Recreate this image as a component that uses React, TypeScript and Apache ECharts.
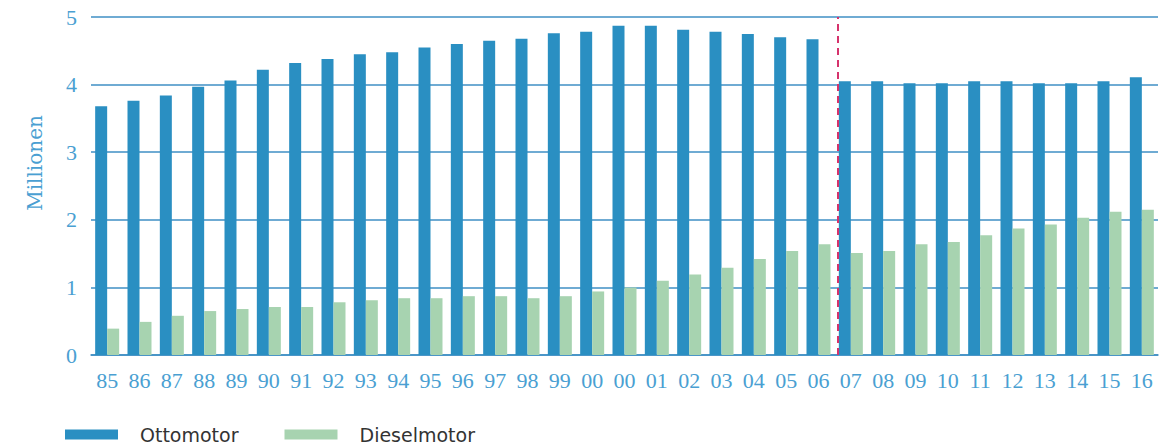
import React, { useEffect, useRef } from "react";
import * as echarts from "echarts";

const categories = ["85","86","87","88","89","90","91","92","93","94","95","96","97","98","99","00","00","01","02","03","04","05","06","07","08","09","10","11","12","13","14","15","16"];
const ottomotor = [3.68,3.76,3.84,3.97,4.06,4.22,4.32,4.38,4.45,4.48,4.55,4.6,4.65,4.68,4.76,4.78,4.87,4.87,4.81,4.78,4.75,4.7,4.67,4.05,4.05,4.02,4.02,4.05,4.05,4.02,4.02,4.05,4.11];
const dieselmotor = [0.39,0.49,0.58,0.65,0.68,0.71,0.71,0.78,0.81,0.84,0.84,0.87,0.87,0.84,0.87,0.94,1.0,1.1,1.19,1.29,1.42,1.54,1.64,1.51,1.54,1.64,1.67,1.77,1.87,1.93,2.03,2.12,2.15];
const seriesNames = ["Ottomotor", "Dieselmotor"];
const yTicks = { min: 0, max: 5, interval: 1 };
const dividerPosition = 22.6; // between "06" and "07"
const yAxisTitle = "Millionen";

export default function App() {
  const ref = useRef<HTMLDivElement>(null);
  useEffect(() => {
    if (!ref.current) return;
    const chart = echarts.init(ref.current, undefined, { renderer: "svg" });
    const gridColor = "#3f8fc4";
    const labelColor = "#4a9fd2";
    chart.setOption({
      animation: false,
      grid: { left: 91, right: 6, top: 17, bottom: 90, containLabel: false },
      legend: {
        data: seriesNames,
        left: 65,
        top: 425,
        padding: 0,
        itemWidth: 53,
        itemHeight: 10,
        itemGap: 46,
        icon: "rect",
        textStyle: { fontFamily: "DejaVu Sans", fontSize: 19, color: "#333", padding: [0, 0, 0, 17] },
      },
      xAxis: [
        {
          type: "category",
          data: categories,
          axisLine: { show: true, lineStyle: { color: gridColor, width: 1.5 } },
          axisTick: { show: false },
          axisLabel: { interval: 0, fontFamily: "Liberation Serif", fontSize: 22, color: labelColor, margin: 14 },
        },
        { type: "value", min: -0.5, max: categories.length - 0.5, show: false },
      ],
      yAxis: {
        type: "value",
        min: yTicks.min,
        max: yTicks.max,
        interval: yTicks.interval,
        axisLine: { show: false },
        axisTick: { show: false },
        splitLine: { lineStyle: { color: gridColor, width: 1.5 } },
        axisLabel: { fontFamily: "Liberation Serif", fontSize: 22, color: labelColor, margin: 14 },
      },
      graphic: [
        {
          type: "text",
          x: 35,
          y: 163,
          rotation: Math.PI / 2,
          style: {
            text: yAxisTitle,
            fontFamily: "DejaVu Serif",
            fontSize: 20,
            fill: labelColor,
            textAlign: "center",
            textVerticalAlign: "middle",
          },
        },
      ],
      series: [
        {
          name: seriesNames[0],
          type: "bar",
          data: ottomotor,
          barWidth: 12,
          barGap: "0%",
          itemStyle: { color: "#2a8fc2" },
        },
        {
          name: seriesNames[1],
          type: "bar",
          data: dieselmotor,
          barWidth: 12,
          barGap: "0%",
          itemStyle: { color: "#a7d3b0" },
        },
        {
          type: "line",
          xAxisIndex: 1,
          data: [[dividerPosition, 0]],
          symbol: "none",
          lineStyle: { opacity: 0 },
          silent: true,
          markLine: {
            silent: true,
            symbol: "none",
            label: { show: false },
            lineStyle: { color: "#d6336c", width: 2, type: [7, 5] },
            data: [{ xAxis: dividerPosition }],
          },
        },
      ],
    });
    return () => chart.dispose();
  }, []);
  return <div ref={ref} style={{ position: "absolute", left: 0, top: 0, width: 1164, height: 445 }} />;
}
